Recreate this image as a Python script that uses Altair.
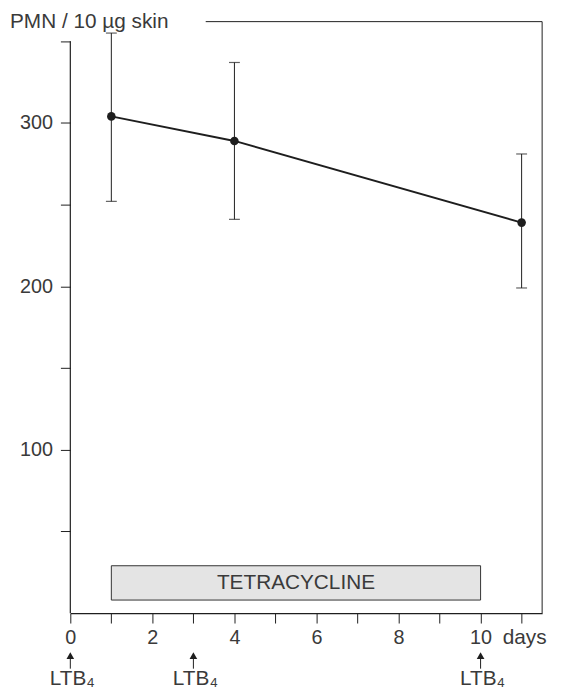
import altair as alt
import pandas as pd

# ---- data ----
days = [1, 4, 11]
mean_pmn = [304, 289, 239]
upper_pmn = [355, 337, 281]
lower_pmn = [252, 241, 199]

x_tick_values = list(range(0, 12))
y_tick_values = [50, 100, 150, 200, 250, 300, 350]
ltb_days = [0, 3, 10]
ltb_labels = ["LTB\u2084", "LTB\u2084", "LTB\u2084"]
treat_start = [1]
treat_end = [10]
treat_label = ["TETRACYCLINE"]
y_title = "PMN /  10 \u00b5g  skin"
x_unit = "days"

# ---- styling ----
FONT = "Liberation Sans"
TXT = "#3a3a3a"
INK = "#1e1e1e"
W, H = 477, 598
X_DOM = [0, 11.5]
Y_DOM = [0, 362]

xs = alt.Scale(domain=X_DOM, nice=False, zero=False)
ys = alt.Scale(domain=Y_DOM, nice=False, zero=False)

x_axis = alt.Axis(
    values=x_tick_values,
    labelExpr="(datum.value % 2 == 0 && datum.value <= 10) ? datum.label : ''",
    format="d", tickSize=10, tickWidth=1, tickColor=INK,
    domainColor=INK, domainWidth=1.2,
    labelFont=FONT, labelFontSize=20, labelColor=TXT, labelPadding=5,
    labelFlush=False, labelOverlap=False, grid=False, title=None,
)
y_axis = alt.Axis(
    values=y_tick_values,
    labelExpr="datum.value % 100 == 0 ? datum.label : ''",
    format="d", tickSize=10, tickWidth=1, tickColor=INK, domain=False,
    labelFont=FONT, labelFontSize=20, labelColor=TXT, labelPadding=8,
    labelOverlap=False, grid=False, title=None,
)

df = pd.DataFrame({"day": days, "mean": mean_pmn, "hi": upper_pmn, "lo": lower_pmn})

def X(field):
    return alt.X(field, type="quantitative", scale=xs, axis=x_axis)

def Y(field):
    return alt.Y(field, type="quantitative", scale=ys, axis=y_axis)

# line + points
line = alt.Chart(df).mark_line(color=INK, strokeWidth=2).encode(
    x=X("day"), y=Y("mean")
)
points = alt.Chart(df).mark_point(filled=True, color=INK, size=75, opacity=1).encode(
    x=X("day"), y=Y("mean")
)
err = alt.Chart(df).mark_rule(color=INK, strokeWidth=1).encode(
    x=X("day"), y=Y("lo"), y2="hi"
)
cap_hi = alt.Chart(df).mark_tick(color=INK, orient="horizontal", size=11, thickness=1.2).encode(
    x=X("day"), y=Y("hi")
)
cap_lo = alt.Chart(df).mark_tick(color=INK, orient="horizontal", size=11, thickness=1.2).encode(
    x=X("day"), y=Y("lo")
)

# frame and y-axis line
frame_top = alt.Chart(pd.DataFrame({"x": [3.3], "x2": [X_DOM[1]], "y": [Y_DOM[1]]})).mark_rule(
    color=INK, strokeWidth=1).encode(x=X("x"), x2="x2", y=Y("y"))
frame_right = alt.Chart(pd.DataFrame({"x": [X_DOM[1]], "y": [0], "y2": [Y_DOM[1]]})).mark_rule(
    color=INK, strokeWidth=1).encode(x=X("x"), y=Y("y"), y2="y2")
y_line = alt.Chart(pd.DataFrame({"x": [0], "y": [0], "y2": [350]})).mark_rule(
    color=INK, strokeWidth=1.2).encode(x=X("x"), y=Y("y"), y2="y2")

# tetracycline treatment box
box_df = pd.DataFrame({"x": treat_start, "x2": treat_end, "y": [8], "y2": [29],
                       "label": treat_label})
box = alt.Chart(box_df).mark_rect(fill="#e4e4e4", stroke="#333333", strokeWidth=1).encode(
    x=X("x"), x2="x2", y=Y("y"), y2="y2")
box_text = alt.Chart(box_df).transform_calculate(
    xm="(datum.x + datum.x2) / 2", ym="(datum.y + datum.y2) / 2"
).mark_text(font=FONT, fontSize=21, color=TXT,
            align="center", baseline="middle").encode(
    x=X("xm"), y=Y("ym"), text="label:N")

# title text at top-left
title = alt.Chart(pd.DataFrame({"x": [-1.47], "y": [358], "t": [y_title]})).mark_text(
    font=FONT, fontSize=21, color=TXT, align="left", baseline="alphabetic"
).encode(x=X("x"), y=Y("y"), text="t:N")

# "days" unit label
unit = alt.Chart(pd.DataFrame({"x": [10.54], "y": [-15.5], "t": [x_unit]})).mark_text(
    font=FONT, fontSize=21, color=TXT, align="left", baseline="middle"
).encode(x=X("x"), y=Y("y"), text="t:N")

# LTB4 arrows
ltb_df = pd.DataFrame({"day": ltb_days, "label": ltb_labels,
                       "top": [-26] * 3, "bot": [-34] * 3, "ty": [-40.5] * 3})
arrow_shaft = alt.Chart(ltb_df).mark_rule(color=INK, strokeWidth=1).encode(
    x=X("day"), y=Y("top"), y2="bot")
arrow_head = alt.Chart(ltb_df).mark_point(shape="triangle-up", filled=True, color=INK,
                                          size=60, opacity=1).encode(
    x=X("day"), y=Y("top"))
ltb_text = alt.Chart(ltb_df).mark_text(font=FONT, fontSize=21, color=TXT, align="center",
                                       baseline="middle", dx=2).encode(
    x=X("day"), y=Y("ty"), text="label:N")

chart = alt.layer(
    line, box, box_text, err, cap_hi, cap_lo, points,
    frame_top, frame_right, y_line, title, unit, arrow_shaft, arrow_head, ltb_text,
).properties(
    width=W, height=H,
    autosize=alt.AutoSizeParams(type="none"),
    padding={"left": 63, "top": 10, "right": 12, "bottom": 80},
    background="white",
).configure_view(stroke=None)

chart.save("out.html", embed_options={"renderer": "svg", "actions": False})
